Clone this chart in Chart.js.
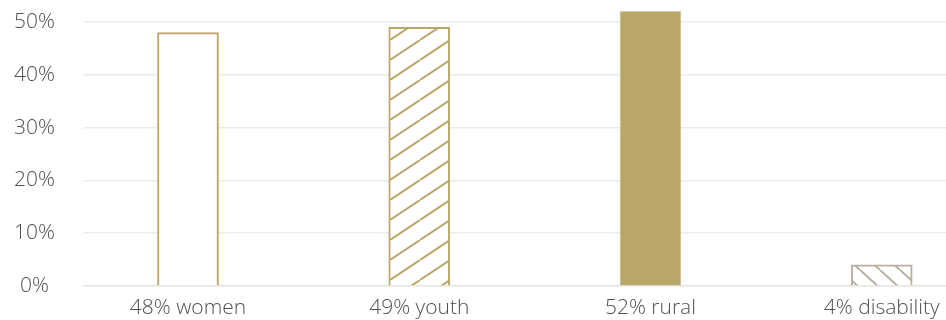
<!DOCTYPE html>
<html>
<head>
<meta charset="utf-8">
<script src="https://cdn.jsdelivr.net/npm/chart.js@4.4.1/dist/chart.umd.min.js"></script>
<style>
  html, body { margin: 0; padding: 0; background: #fff; overflow: hidden; }
  #wrap { width: 946px; height: 320px; position: relative; }
</style>
</head>
<body>
<div id="wrap"><canvas id="chart"></canvas></div>
<script>
// Données du graphique
const categories = ['48% women', '49% youth', '52% rural', '4% disability'];
const shares = [48, 49, 52, 4];
const yTicks = [0, 10, 20, 30, 40, 50];

const GOLD = '#bba76c';
const GREY = '#b9ae9f';
const FONT = { family: "'Open Sans', sans-serif", size: 21, weight: 300 };

// Motif hachuré (rayures diagonales) dessiné sur un petit canevas
function makeHatch(color, w, h, up) {
  const c = document.createElement('canvas');
  c.width = w;
  c.height = h;
  const g = c.getContext('2d');
  g.fillStyle = '#fff';
  g.fillRect(0, 0, w, h);
  g.strokeStyle = color;
  g.lineWidth = 2;
  g.beginPath();
  for (let k = -1; k <= 1; k++) {
    if (up) {
      g.moveTo(k * w, h);
      g.lineTo((k + 1) * w, 0);
    } else {
      g.moveTo(k * w, 0);
      g.lineTo((k + 1) * w, h);
    }
  }
  g.stroke();
  return g.createPattern(c, 'repeat');
}

const ctx = document.getElementById('chart').getContext('2d');
const fills = ['#ffffff', makeHatch(GOLD, 30, 20, true), '#b9a76a', makeHatch(GREY, 20, 18, false)];
const borders = [GOLD, GOLD, '#d9cfae', GREY];
const borderWidths = [2, 2, 1, 2];

new Chart(ctx, {
  type: 'bar',
  data: {
    datasets: [{
      data: shares.map((v, i) => ({ x: i, y: v })),
      backgroundColor: fills,
      borderColor: borders,
      borderWidth: borderWidths,
      barThickness: 61,
      clip: false // la barre "rural" dépasse 50%
    }]
  },
  options: {
    responsive: true,
    maintainAspectRatio: false,
    animation: false,
    layout: { autoPadding: false, padding: { top: 22, right: 0, bottom: 0, left: 0 } },
    plugins: {
      legend: { display: false },
      tooltip: { enabled: false }
    },
    scales: {
      x: {
        type: 'linear',
        offset: false,
        clip: false,
        min: -0.454,
        max: 3.278,
        afterFit: s => { s.height = 34; },
        afterBuildTicks: s => { s.ticks = categories.map((_, i) => ({ value: i })); },
        grid: { display: false },
        border: { display: false },
        ticks: {
          autoSkip: false,
          maxRotation: 0,
          padding: 1,
          color: '#505050',
          font: FONT,
          callback: v => categories[v]
        }
      },
      y: {
        min: 0,
        max: 50,
        afterFit: s => {
          s.width = 83;
          s.paddingTop = 0;
          s.paddingBottom = 0;
        },
        afterBuildTicks: s => { s.ticks = yTicks.map(v => ({ value: v })); },
        grid: {
          drawTicks: false,
          lineWidth: 1.5,
          color: c => c.tick.value === 0 ? '#e6e2da' : '#ebebeb'
        },
        border: { display: false },
        ticks: {
          padding: 28,
          crossAlign: 'center',
          color: '#505050',
          font: FONT,
          callback: v => v + '%'
        }
      }
    }
  }
});
</script>
</body>
</html>
